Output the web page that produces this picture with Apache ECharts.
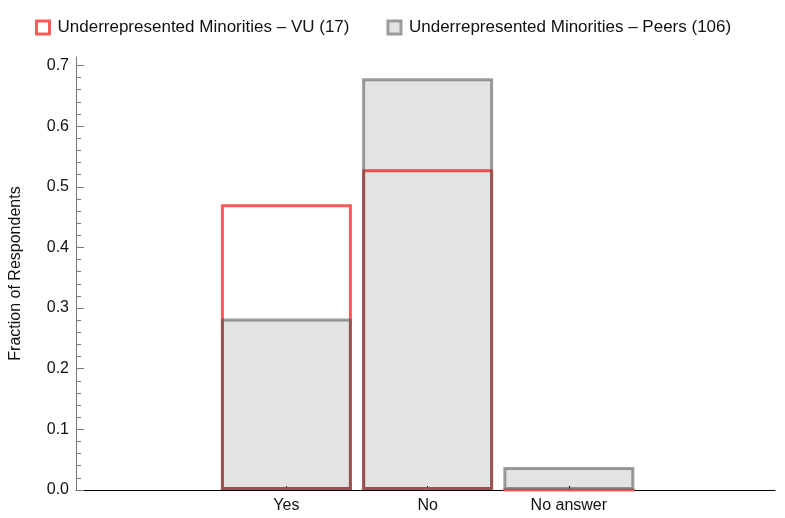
<!DOCTYPE html>
<html>
<head>
<meta charset="utf-8">
<script src="https://cdn.jsdelivr.net/npm/echarts@6/dist/echarts.min.js"></script>
<style>
  html, body { margin: 0; padding: 0; background: #fff; }
  #chart { width: 785px; height: 518px; }
</style>
</head>
<body>
<div id="chart"></div>
<script>
const categories = ["Yes", "No", "No answer"];
const categoryPos = [1, 2, 3];
const vuValues = [0.471, 0.529, 0];
const peersValues = [0.283, 0.679, 0.038];
const majorTicks = [0, 0.1, 0.2, 0.3, 0.4, 0.5, 0.6, 0.7];
const minorTicks = [];
majorTicks.forEach((v) => {
  for (let k = 1; k < 5; k++) minorTicks.push(+(v + k * 0.02).toFixed(2));
});
minorTicks.splice(minorTicks.length - 4);

const vuName = "Underrepresented Minorities \u2013 VU (17)";
const peersName = "Underrepresented Minorities \u2013 Peers (106)";
const red = "#ff5a5a";
const font = "Liberation Sans";

const chart = echarts.init(document.getElementById("chart"));

chart.setOption({
  animation: false,
  textStyle: { fontFamily: font },
  legend: {
    top: 14,
    left: 30,
    itemWidth: 13,
    itemHeight: 13,
    itemGap: 37,
    textStyle: { fontSize: 17, color: "#111", fontFamily: font, padding: [0, 0, 0, 3] },
    data: [
      { name: vuName, icon: "rect", itemStyle: { color: "#fff", borderColor: red, borderWidth: 3 } },
      { name: peersName, icon: "rect", itemStyle: { color: "#e3e3e3", borderColor: "#9c9c9c", borderWidth: 3 } },
    ],
  },
  grid: { left: 73, right: 10, top: 57, bottom: 28 },
  xAxis: {
    type: "value",
    min: -0.49,
    max: 4.46,
    axisLine: { onZero: false, lineStyle: { color: "#000", width: 1 } },
    axisTick: { customValues: categoryPos, inside: true, length: 4, lineStyle: { color: "#000" } },
    axisLabel: {
      customValues: categoryPos,
      formatter: (v) => categories[Math.round(v) - 1],
      color: "#111",
      fontSize: 16,
      margin: 8,
    },
    splitLine: { show: false },
  },
  yAxis: [
    {
      type: "value",
      min: 0,
      max: 0.714,
      name: "Fraction of Respondents",
      nameLocation: "middle",
      nameGap: 52,
      nameTextStyle: { fontSize: 16, color: "#111" },
      axisLine: { show: true, onZero: false, lineStyle: { color: "#777", width: 1 } },
      axisTick: { customValues: minorTicks, inside: true, length: 5, lineStyle: { color: "#777" } },
      axisLabel: {
        customValues: majorTicks,
        formatter: (v) => v.toFixed(1),
        color: "#111",
        fontSize: 16,
        margin: 7,
      },
      splitLine: { show: false },
    },
    {
      type: "value",
      position: "left",
      min: 0,
      max: 0.714,
      axisLine: { show: false, onZero: false },
      axisTick: { customValues: majorTicks, inside: true, length: 8, lineStyle: { color: "#777" } },
      axisLabel: { show: false },
      splitLine: { show: false },
    },
  ],
  series: [
    {
      name: vuName,
      type: "bar",
      barWidth: 131,
      barGap: "-100%",
      data: categoryPos.map((x, i) => [x, vuValues[i]]),
      itemStyle: { color: "rgba(255,255,255,0)", borderColor: red, borderWidth: 3 },
    },
    {
      name: peersName,
      type: "bar",
      barWidth: 131,
      barGap: "-100%",
      data: categoryPos.map((x, i) => [x, peersValues[i]]),
      itemStyle: { color: "rgba(0,0,0,0.11)", borderColor: "rgba(80,80,80,0.56)", borderWidth: 3 },
    },
  ],
});
</script>
</body>
</html>
